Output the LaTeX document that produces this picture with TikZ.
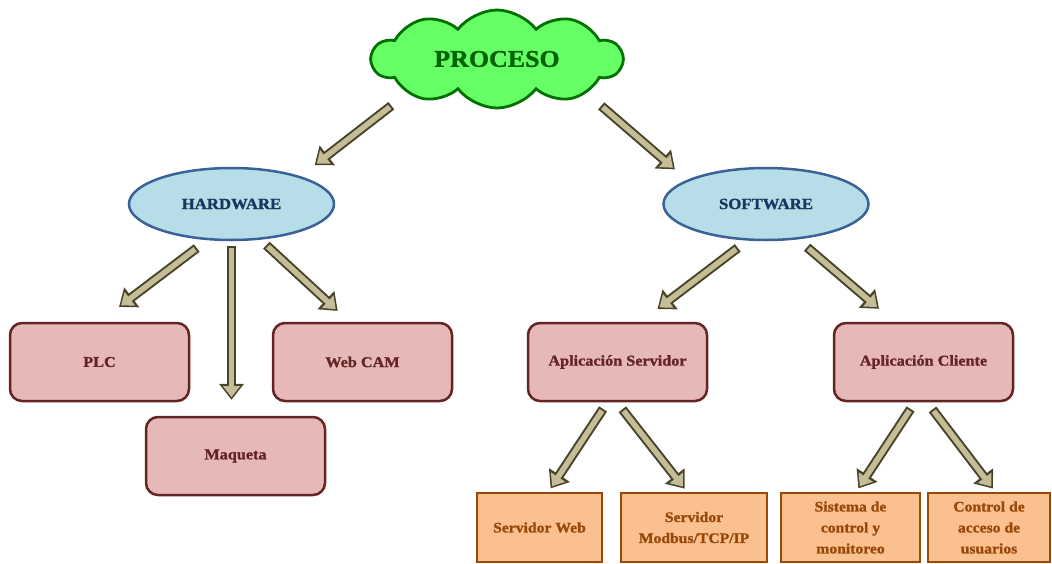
\documentclass[tikz,border=0pt]{standalone}
\usepackage{fontspec}
\setmainfont[FakeStretch=1.08, BoldFeatures={FakeBold=1.2}]{Liberation Serif}
\usetikzlibrary{shapes.geometric, shapes.symbols, arrows.meta, positioning}
\definecolor{nubeFill}{HTML}{66FF66}
\definecolor{nubeLine}{HTML}{007000}
\definecolor{nubeText}{HTML}{006100}
\definecolor{elipFill}{HTML}{B7DEE8}
\definecolor{elipLine}{HTML}{3A6297}
\definecolor{elipText}{HTML}{17375E}
\definecolor{rosaFill}{HTML}{E6B9B8}
\definecolor{rosaLine}{HTML}{632423}
\definecolor{naraFill}{HTML}{FAC090}
\definecolor{naraLine}{HTML}{984807}
\definecolor{flechaFill}{HTML}{C4BD97}
\definecolor{flechaLine}{HTML}{494429}
\tikzstyle{nube} = [cloud, cloud puffs=10, cloud puff arc=105, cloud ignores aspect, minimum width=250pt, minimum height=98pt, inner sep=0pt, draw=nubeLine, fill=nubeFill, line width=2.8pt, text=nubeText, font=\fontsize{24}{26}\selectfont\bfseries]
\tikzstyle{elip} = [ellipse, minimum width=205pt, minimum height=72pt, inner sep=0pt, draw=elipLine, fill=elipFill, line width=2.5pt, text=elipText, font=\fontsize{15.5}{18}\selectfont\bfseries]
\tikzstyle{equipo} = [rectangle, rounded corners=12pt, minimum width=179pt, minimum height=78pt, draw=rosaLine, fill=rosaFill, line width=2.5pt, text=rosaLine, font=\fontsize{15}{18}\selectfont\bfseries]
\tikzstyle{modulo} = [rectangle, minimum height=69pt, inner sep=0pt, align=center, draw=naraLine, fill=naraFill, line width=2.5pt, text=naraLine, font=\fontsize{14.5}{21}\selectfont\bfseries]
% flecha gruesa: {recorte inicio}{recorte final}
\tikzset{blk/.style 2 args={line width=5.5pt, draw=flechaFill, shorten <=#1+2pt, shorten >=#2+2.6pt, -{Triangle[length=11pt,width=16.5pt]},
  preaction={draw=flechaLine, line width=9.5pt, shorten <=#1, shorten >=#2, -{Triangle[length=16pt,width=24pt]}}}}

\begin{document}
\begin{tikzpicture}[x=1pt, y=-1pt]
  \useasboundingbox (0,0) rectangle (1052,563);
  \node (proc) [nube] at (497,59) {PROCESO};
  \node (hw) [elip] at (231.5,204) {HARDWARE};
  \node (sw) [elip] at (766,204) {SOFTWARE};

  \node (plc) [equipo] at (99.5,362) {PLC};
  \node (cam) [equipo, right=81.5pt of plc] {Web CAM};
  \node (maq) [equipo] at (235.5,456) {Maqueta};
  \node (srv) [equipo] at (617.5,362) {Aplicación Servidor};
  \node (cli) [equipo, right=124.5pt of srv] {Aplicación Cliente};

  \node (web) [modulo, minimum width=125pt] at (539.5,527.5) {Servidor Web};
  \node (mod) [modulo, minimum width=146pt] at (694,527.5) {Servidor\\Modbus/TCP/IP};
  \node (sis) [modulo, minimum width=139pt] at (850.5,527.5) {Sistema de\\control y\\monitoreo};
  \node (acc) [modulo, minimum width=122pt] at (989,527.5) {Control de\\acceso de\\usuarios};

  \draw [blk={20pt}{18pt}] (proc.201) -- (hw.22);
  \draw [blk={19pt}{16pt}] (proc.339) -- (sw.163);
  \draw [blk={13pt}{24.5pt}] (hw.236) -- (plc.north);
  \draw [blk={5pt}{16pt}] (hw.south) -- (hw.south |- maq.north);
  \draw [blk={8pt}{16pt}] (hw.309) -- (cam.108);
  \draw [blk={12pt}{21pt}] (sw.243) -- (srv.60);
  \draw [blk={12pt}{20pt}] (sw.312) -- (cli.126);
  \draw [blk={8pt}{4pt}] (srv.256) -- (web.76);
  \draw [blk={9pt}{4pt}] (srv.269) -- (mod.101);
  \draw [blk={8pt}{4pt}] (cli.258) -- (sis.81);
  \draw [blk={9pt}{4pt}] (cli.275) -- (acc.80);
\end{tikzpicture}
\end{document}
